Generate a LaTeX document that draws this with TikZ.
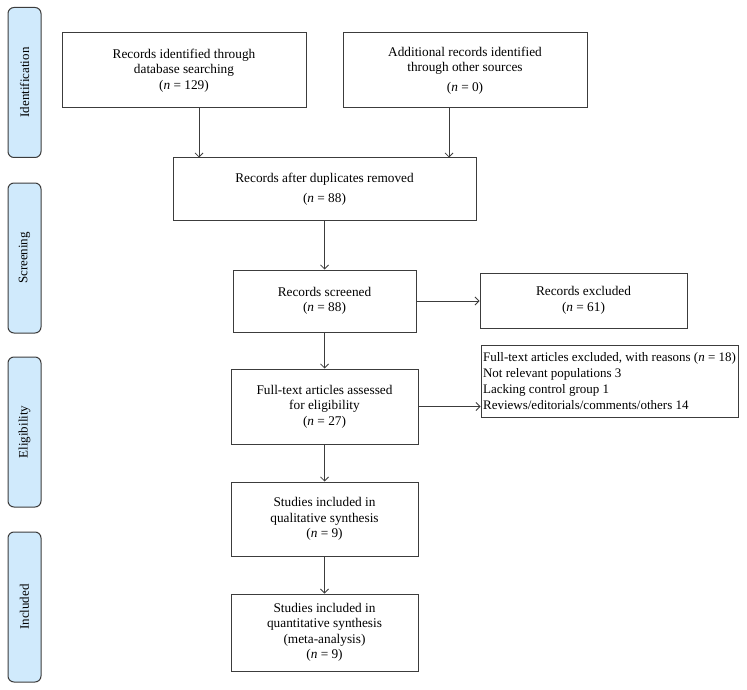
\documentclass[tikz,border=0pt]{standalone}
\usepackage{fontspec}
\setmainfont{Liberation Serif}
\usepackage{tikz}
\usetikzlibrary{arrows.meta,shapes,positioning}
\usepackage{xcolor}
\definecolor{prbox}{RGB}{60,60,60}
\definecolor{prblue}{RGB}{208,234,252}
\newcommand{\nn}{\textit{n}}
\tikzstyle{arrow} = [->,>={Straight Barb[length=4pt,width=8pt]},line width=0.8pt,color=prbox]
\tikzstyle{stage} = [draw=prbox,line width=1pt,align=center,font=\fontsize{13.3}{15.5}\selectfont,inner sep=2pt]
\tikzstyle{phase} = [draw=prbox,line width=1pt,fill=prblue,rounded corners=6pt,rotate=90,minimum width=150pt,minimum height=33pt,font=\fontsize{13}{15}\selectfont]

\begin{document}
\begin{tikzpicture}[x=1pt,y=-1pt]
\useasboundingbox (0,0) rectangle (747,690);

% Phase labels
\node[phase] (ident) at (24.5,82.5) {Identification};
\node[phase] (screen) at (24.5,258) {Screening};
\node[phase] (elig) at (24.5,432) {Eligibility};
\node[phase] (incl) at (24.5,607) {Included};

% Identification
\node[stage, minimum width=244pt, minimum height=75pt] (db) at (184,70.5) {Records identified through\\database searching\\(\nn{} = 129)};
\node[stage, minimum width=244pt, minimum height=75pt] (other) at (465,70.5) {Additional records identified\\through other sources\\[4pt](\nn{} = 0)};

% Screening
\node[stage, minimum width=303pt, minimum height=62pt] (dup) at (324.5,189) {Records after duplicates removed\\[4pt](\nn{} = 88)};
\node[stage, minimum width=183pt, minimum height=62pt] (scr) at (324.5,301) {Records screened\\(\nn{} = 88)};
\node[stage, minimum width=207pt, minimum height=55pt] (excl) at (583.5,300.5) {Records excluded\\(\nn{} = 61)};

% Eligibility
\node[stage, minimum width=187pt, minimum height=75pt] (full) at (324.5,406.5) {Full-text articles assessed\\for eligibility\\(\nn{} = 27)};
\node[stage, align=left, minimum width=257pt, minimum height=72pt, inner sep=1pt, font=\fontsize{13}{16}\selectfont] (reason) at (609.5,381) {Full-text articles excluded, with reasons (\nn{} = 18)\\Not relevant populations 3\\Lacking control group 1\\Reviews/editorials/comments/others 14};

% Included
\node[stage, minimum width=187pt, minimum height=74pt] (qual) at (324.5,519) {Studies included in\\qualitative synthesis\\(\nn{} = 9)};
\node[stage, minimum width=187pt, minimum height=77pt] (quant) at (324.5,632.5) {Studies included in\\quantitative synthesis\\(meta-analysis)\\(\nn{} = 9)};

% Arrows
\draw[arrow] ([xshift=15pt]db.south) -- ([xshift=15pt]db.south |- dup.north);
\draw[arrow] ([xshift=-16pt]other.south) -- ([xshift=-16pt]other.south |- dup.north);
\draw[arrow] (dup) -- (scr);
\draw[arrow] (scr.east) -- (scr.east -| excl.west);
\draw[arrow] (scr) -- (full);
\draw[arrow] (full.east) -- (full.east -| reason.west);
\draw[arrow] (full) -- (qual);
\draw[arrow] (qual) -- (quant);
\end{tikzpicture}
\end{document}
